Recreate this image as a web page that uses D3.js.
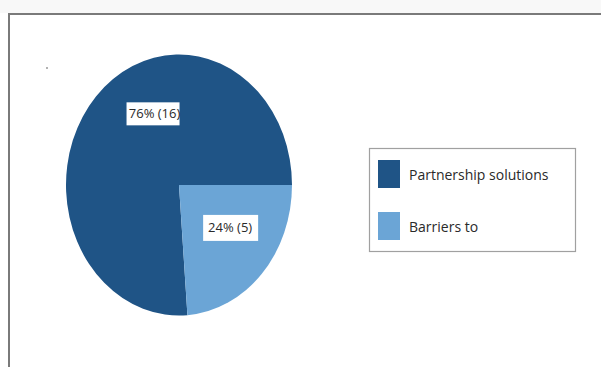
<!DOCTYPE html>
<html>
<head>
<meta charset="utf-8">
<script src="https://cdn.jsdelivr.net/npm/d3@7"></script>
<style>
    body { margin: 0; background: #fff; }
    svg { display: block; font-family: "Open Sans", "Noto Sans", sans-serif; }
</style>
</head>
<body>
<svg id="chart" width="601" height="367"></svg>
<script>
// chart data
const categories = ["Partnership solutions", "Barriers to"];
const counts = [16, 5];
const percents = [76, 24];
const colors = ["#1f5486", "#6ba5d6"];

const svg = d3.select("#chart");

// light strip above the frame + frame lines (top and left only visible)
svg.append("rect").attr("x", 0).attr("y", 0).attr("width", 601).attr("height", 13)
    .attr("fill", "#f8f8f8");
svg.append("path")
    .attr("d", "M9,367 V14 H601")
    .attr("fill", "none")
    .attr("stroke", "#7a7a7a")
    .attr("stroke-width", 2);

// stray dot in top-left corner
svg.append("circle").attr("cx", 47).attr("cy", 68).attr("r", 1).attr("fill", "#999");

// pie is squashed horizontally, so draw it in a circle and scale x
const cx = 179, cy = 185, ry = 130.5, rx = 113;
const sx = rx / ry;

let pie = d3.pie()
    .sort(null)
    .startAngle(Math.PI / 2)
    .endAngle(Math.PI / 2 - 2 * Math.PI);

let arc = d3.arc().innerRadius(0).outerRadius(ry);
let slices = pie(counts);

let g = svg.append("g")
    .attr("transform", "translate(" + cx + "," + cy + ") scale(" + sx + ",1)");

g.selectAll("path")
    .data(slices)
    .enter()
    .append("path")
    .attr("d", arc)
    .attr("fill", function (d, i) {
        return colors[i];
    });

// data labels with white boxes
const labelFrac = [0.41, 0.58];
const labelR = [77, 73];

let labels = svg.selectAll(".lbl")
    .data(slices)
    .enter()
    .append("g")
    .classed("lbl", true)
    .attr("transform", function (d, i) {
        let a = d.startAngle + (d.endAngle - d.startAngle) * labelFrac[i];
        let p = d3.pointRadial(a, labelR[i]);
        return "translate(" + (cx + p[0] * sx) + "," + (cy + p[1]) + ")";
    });

labels.append("rect")
    .attr("x", -27)
    .attr("y", function (d, i) { return i == 0 ? -11.5 : -13; })
    .attr("width", function (d, i) { return i == 0 ? 53 : 55; })
    .attr("height", function (d, i) { return i == 0 ? 23 : 26; })
    .attr("fill", "#fff");

labels.append("text")
    .attr("text-anchor", "middle")
    .attr("x", function (d, i) { return i == 0 ? 1 : 0; })
    .attr("dy", "0.35em")
    .attr("font-size", 13)
    .attr("fill", "#2a2a2a")
    .text(function (d, i) {
        return percents[i] + "% (" + counts[i] + ")";
    });

// legend
let legend = svg.append("g").attr("transform", "translate(369,148)");
legend.append("rect")
    .attr("x", 0.5).attr("y", 0.5)
    .attr("width", 206).attr("height", 103)
    .attr("fill", "#fff")
    .attr("stroke", "#a0a0a0")
    .attr("stroke-width", 1.2);

let items = legend.selectAll(".item")
    .data(categories)
    .enter()
    .append("g")
    .classed("item", true)
    .attr("transform", function (d, i) {
        return "translate(9," + (12 + i * 52) + ")";
    });

items.append("rect")
    .attr("width", 22)
    .attr("height", 28)
    .attr("fill", function (d, i) { return colors[i]; });

items.append("text")
    .attr("x", 31)
    .attr("y", 15)
    .attr("dy", "0.35em")
    .attr("font-size", 14)
    .attr("fill", "#2a2a2a")
    .text(function (d) { return d; });
</script>
</body>
</html>
